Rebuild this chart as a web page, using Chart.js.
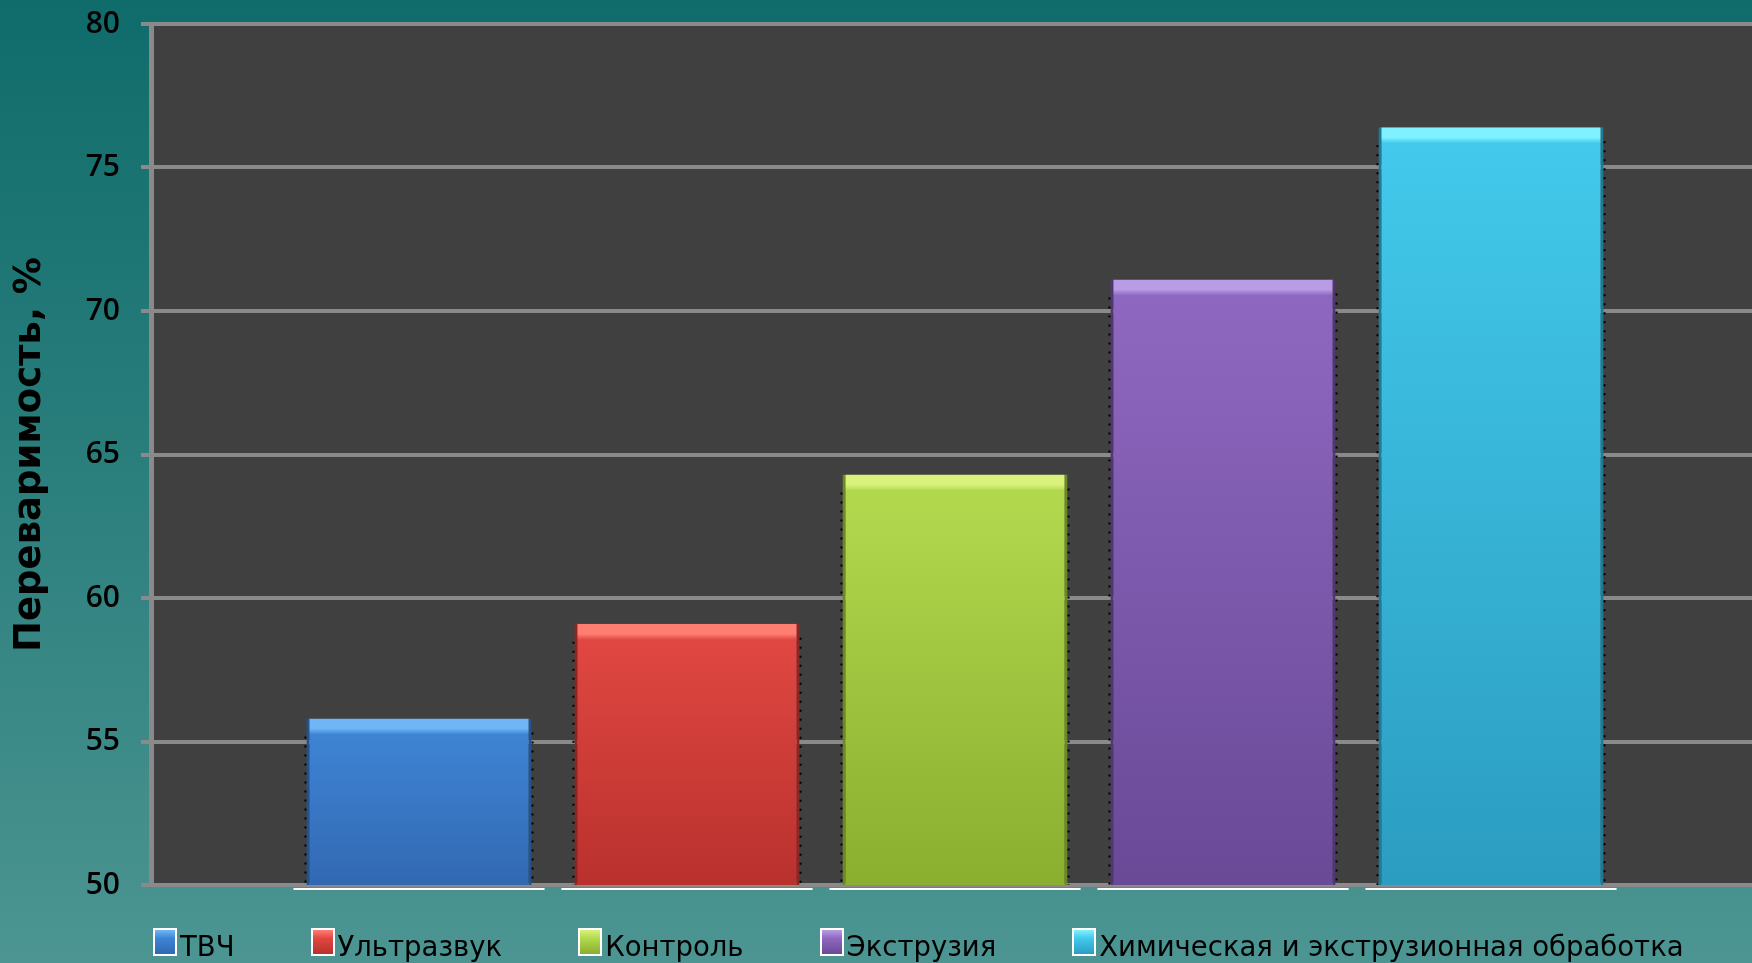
<!DOCTYPE html>
<html>
<head>
<meta charset="utf-8">
<script src="https://cdn.jsdelivr.net/npm/chart.js@4.4.0/dist/chart.umd.min.js"></script>
<style>
  html, body { margin: 0; padding: 0; width: 1752px; height: 963px; overflow: hidden; }
  body { position: relative; background: linear-gradient(to bottom, #0f6c6a 0%, #2b7f7d 50%, #4c9592 100%); }
  #wrap { position: absolute; left: 0; top: 0; width: 1759px; height: 963px; }
  #legend { position: absolute; left: 153px; top: 932px; display: flex; gap: 76px;
            font-family: "DejaVu Sans", sans-serif; font-size: 27.5px; line-height: 28px; color: #000; white-space: nowrap; }
  #legend .item { display: flex; align-items: flex-start; }
  #legend .box { width: 20px; height: 24px; border: 2px solid #fff; margin-top: -4px; margin-right: 3px; }
</style>
</head>
<body>
<div id="wrap"><canvas id="grafico" width="1759" height="963"></canvas></div>
<div id="legend"></div>
<script>
// categories (one series each) and values
var categorias = ['ТВЧ', 'Ультразвук', 'Контроль', 'Экструзия', 'Химическая и экструзионная обработка'];
var valores = [55.8, 59.1, 64.3, 71.1, 76.4];
var ejeY = { min: 50, max: 80, paso: 5 };

// colors: top highlight, body top, body bottom, sides
var colorLuz   = ['#70b6f6', '#ff7e72', '#d8f27c', '#b89ce6', '#80f2ff'];
var colorArr   = ['#3e84d4', '#e04742', '#b2d94e', '#8e68c0', '#42c9eb'];
var colorAbj   = ['#3268b2', '#b9312d', '#8aae2f', '#6a4997', '#2b9dc1'];
var colorLado  = ['#24528e', '#8e2522', '#6b8a22', '#503672', '#1f7a98'];

var etiquetas = [''].concat(categorias, ['']);

function relleno(i) {
  return function (context) {
    var chart = context.chart;
    var area = chart.chartArea;
    if (!area || !context.parsed || context.parsed.y == null) return colorArr[i];
    var top = chart.scales.y.getPixelForValue(context.parsed.y);
    var h = area.bottom - top;
    var g = chart.ctx.createLinearGradient(0, top, 0, area.bottom);
    g.addColorStop(0, colorLuz[i]);
    g.addColorStop(Math.min(1, 10 / h), colorLuz[i]);
    g.addColorStop(Math.min(1, 16 / h), colorArr[i]);
    g.addColorStop(1, colorAbj[i]);
    return g;
  };
}

var datos = categorias.map(function (nombre, i) {
  return {
    label: nombre,
    data: etiquetas.map(function (_, j) { return j === i + 1 ? valores[i] : null; }),
    grouped: false,
    backgroundColor: relleno(i),
    borderColor: colorLado[i],
    borderWidth: { left: 3, right: 3, top: 0, bottom: 0 },
    borderSkipped: false,
    categoryPercentage: 1,
    barPercentage: 0.84
  };
});

var fondoPlot = {
  id: 'fondoPlot',
  beforeDraw: function (chart) {
    var a = chart.chartArea, c = chart.ctx;
    c.save();
    c.fillStyle = '#404040';
    c.fillRect(a.left, a.top, a.right - a.left, a.bottom - a.top);
    c.restore();
  }
};

// dotted edges and white base under each bar, as in the original slide
var marcas = {
  id: 'marcas',
  afterDatasetsDraw: function (chart) {
    var c = chart.ctx;
    var piso = chart.scales.y.getPixelForValue(ejeY.min);
    c.save();
    chart.data.datasets.forEach(function (ds, i) {
      chart.getDatasetMeta(i).data.forEach(function (bar, j) {
        if (ds.data[j] == null) return;
        var izq = bar.x - bar.width / 2, der = bar.x + bar.width / 2;
        c.strokeStyle = '#000';
        c.lineWidth = 2;
        c.setLineDash([2, 7]);
        c.beginPath();
        c.moveTo(izq - 1, bar.y + 18); c.lineTo(izq - 1, piso);
        c.moveTo(der + 1, bar.y + 14); c.lineTo(der + 1, piso);
        c.stroke();
        c.setLineDash([]);
        c.fillStyle = '#ffffff';
        c.fillRect(izq - 13, piso + 3, bar.width + 26, 2);
      });
    });
    c.restore();
  }
};

var leyendaHtml = {
  id: 'leyendaHtml',
  afterUpdate: function (chart) {
    var cont = document.getElementById('legend');
    cont.innerHTML = '';
    chart.data.datasets.forEach(function (ds, i) {
      var item = document.createElement('div');
      item.className = 'item';
      var box = document.createElement('span');
      box.className = 'box';
      box.style.background = 'linear-gradient(to bottom, ' + colorLuz[i] + ' 0%, ' + colorArr[i] + ' 35%, ' + colorAbj[i] + ' 100%)';
      var txt = document.createElement('span');
      txt.textContent = ds.label;
      item.appendChild(box);
      item.appendChild(txt);
      cont.appendChild(item);
    });
  }
};

var grafico = new Chart(document.getElementById('grafico').getContext('2d'), {
  type: 'bar',
  data: { labels: etiquetas, datasets: datos },
  options: {
    responsive: false,
    animation: false,
    devicePixelRatio: 1,
    layout: { padding: { top: 24, right: 0, bottom: 78, left: 0 } },
    plugins: { legend: { display: false }, tooltip: { enabled: false } },
    scales: {
      x: { display: false, offset: false },
      y: {
        min: ejeY.min, max: ejeY.max,
        afterFit: function (s) { s.width = 151; s.paddingTop = 0; s.paddingBottom = 0; },
        ticks: { stepSize: ejeY.paso, color: '#000', padding: 21,
                 font: { family: 'Open Sans', size: 30, weight: 600 } },
        grid: { color: '#8a8a8a', lineWidth: 4, tickLength: 10 },
        border: { display: true, color: '#8a8a8a', width: 5 },
        title: { display: true, text: 'Переваримость, %', color: '#000',
                 font: { family: 'DejaVu Sans', size: 37, weight: 'bold' },
                 padding: { top: 8, bottom: 0 } }
      }
    }
  },
  plugins: [fondoPlot, marcas, leyendaHtml]
});
</script>
</body>
</html>
